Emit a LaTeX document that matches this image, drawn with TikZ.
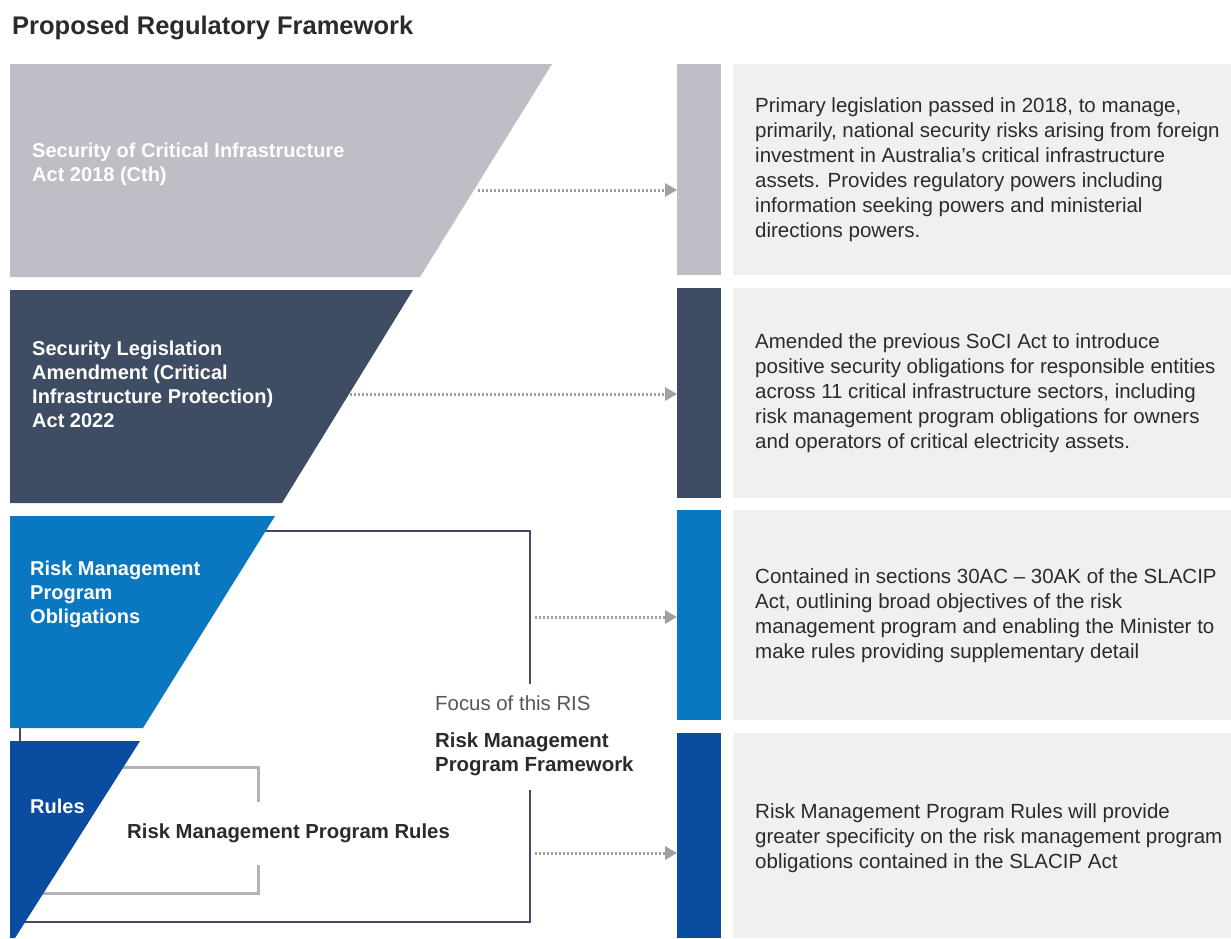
\documentclass[tikz,border=0pt]{standalone}
\usepackage{fontspec}
\setmainfont{Liberation Sans}
\usetikzlibrary{arrows.meta}
\definecolor{bandgray}{HTML}{BDBEC6}
\definecolor{bandslate}{HTML}{3E4D63}
\definecolor{bandblue}{HTML}{0A78C0}
\definecolor{banddark}{HTML}{0A4DA0}
\definecolor{boxbg}{HTML}{F0F0F0}
\definecolor{txtdark}{HTML}{2B2B2B}
\definecolor{txtmid}{HTML}{555555}
\definecolor{arrowgray}{HTML}{A0A0A0}
\definecolor{bracketlight}{HTML}{B3B3B3}
\begin{document}
\begin{tikzpicture}[x=1pt,y=-1pt,
  bandtxt/.style={anchor=west, text=white, font=\bfseries\fontsize{20}{24}\selectfont, align=left, inner sep=0pt},
  desc/.style={anchor=west, text=txtdark, font=\fontsize{20.5}{25}\selectfont, align=left, inner sep=0pt},
  barbox/.style={anchor=north west, minimum width=44pt, inner sep=0pt, outer sep=0pt},
  infobox/.style={anchor=north west, fill=boxbg, minimum width=498pt, inner sep=0pt, outer sep=0pt},
  dotarrow/.style={draw=arrowgray, line width=3pt, dash pattern=on 2pt off 2pt, -{Triangle[length=12pt,width=13pt]}},
  bigbracket/.style={draw=bandslate, line width=2.8pt},
  smallbracket/.style={draw=bracketlight, line width=3pt}
]
\useasboundingbox[fill=white] (0,0) rectangle (1231,938);

% title
\node[anchor=west, inner sep=0pt, text=txtdark, font=\bfseries\fontsize{25.5}{30}\selectfont] (title) at (12,28) {Proposed Regulatory Framework};

% brackets (drawn beneath the bands)
\coordinate (bbTL) at (20,531);
\coordinate (bbTR) at (530,531);
\coordinate (bbGapA) at (530,684);
\coordinate (bbGapB) at (530,790);
\coordinate (bbBR) at (530,922);
\coordinate (bbBL) at (20,922);
\draw[bigbracket] (bbBL) -- (bbTL) -- (bbTR) -- (bbGapA);
\draw[bigbracket] (bbGapB) -- (bbBR) -- (bbBL);

\coordinate (sbTL) at (10,767);
\coordinate (sbTR) at (258,767);
\coordinate (sbGapA) at (258,802);
\coordinate (sbGapB) at (258,865);
\coordinate (sbBR) at (258,893);
\coordinate (sbBL) at (10,893);
\draw[smallbracket] (sbTL) -- (sbTR) -- (sbGapA);
\draw[smallbracket] (sbGapB) -- (sbBR) -- (sbBL);

% left bands
\fill[bandgray]  (10,64) -- (552,64) -- (420,277) -- (10,277) -- cycle;
\fill[bandslate] (10,290) -- (413,290) -- (282,503) -- (10,503) -- cycle;
\fill[bandblue]  (10,516) -- (275,516) -- (143,728) -- (10,728) -- cycle;
\fill[banddark]  (10,741) -- (140,741) -- (15,938) -- (10,938) -- cycle;

\node[bandtxt] (l1) at (32,164) {Security of Critical Infrastructure\\Act 2018 (Cth)};
\node[bandtxt] (l2) at (32,384) {Security Legislation\\Amendment (Critical\\Infrastructure Protection)\\Act 2022};
\node[bandtxt] (l3) at (30,594) {Risk Management\\Program\\Obligations};
\node[bandtxt] (l4) at (30,806) {Rules};

% bracket labels
\node[anchor=west, inner sep=0pt, text=txtmid, font=\fontsize{20.4}{24}\selectfont] (focus) at (435,703) {Focus of this RIS};
\node[anchor=west, inner sep=0pt, text=txtdark, font=\bfseries\fontsize{20.4}{24}\selectfont, align=left] (rmpf) at (435,754) {Risk Management\\Program Framework};
\node[anchor=west, inner sep=0pt, text=txtdark, font=\bfseries\fontsize{20.3}{24}\selectfont] (rmpr) at (127,833) {Risk Management Program Rules};

% right bars
\node[barbox, fill=bandgray,  minimum height=211pt] (bar1) at (677,64) {};
\node[barbox, fill=bandslate, minimum height=210pt] (bar2) at (677,288) {};
\node[barbox, fill=bandblue,  minimum height=210pt] (bar3) at (677,510) {};
\node[barbox, fill=banddark,  minimum height=205pt] (bar4) at (677,733) {};

% info boxes
\node[infobox, minimum height=211pt] (box1) at (733,64) {};
\node[infobox, minimum height=210pt] (box2) at (733,288) {};
\node[infobox, minimum height=210pt] (box3) at (733,510) {};
\node[infobox, minimum height=205pt] (box4) at (733,733) {};

\node[desc] (d1) at (755,170) {Primary legislation passed in 2018, to manage,\\primarily, national security risks arising from foreign\\investment in Australia’s critical infrastructure\\assets. Provides regulatory powers including\\information seeking powers and ministerial\\directions powers.};
\node[desc] (d2) at (755,393) {Amended the previous SoCI Act to introduce\\positive security obligations for responsible entities\\across 11 critical infrastructure sectors, including\\risk management program obligations for owners\\and operators of critical electricity assets.};
\node[desc] (d3) at (755,616) {Contained in sections 30AC – 30AK of the SLACIP\\Act, outlining broad objectives of the risk\\management program and enabling the Minister to\\make rules providing supplementary detail};
\node[desc] (d4) at (755,838) {Risk Management Program Rules will provide\\greater specificity on the risk management program\\obligations contained in the SLACIP Act};

% dotted arrows
\coordinate (s1) at (478,190);
\coordinate (s2) at (350,394);
\coordinate (s3) at (535,617);
\coordinate (s4) at (535,853);
\draw[dotarrow] (s1) -- (bar1.west |- s1);
\draw[dotarrow] (s2) -- (bar2.west |- s2);
\draw[dotarrow] (s3) -- (bar3.west |- s3);
\draw[dotarrow] (s4) -- (bar4.west |- s4);
\end{tikzpicture}
\end{document}
